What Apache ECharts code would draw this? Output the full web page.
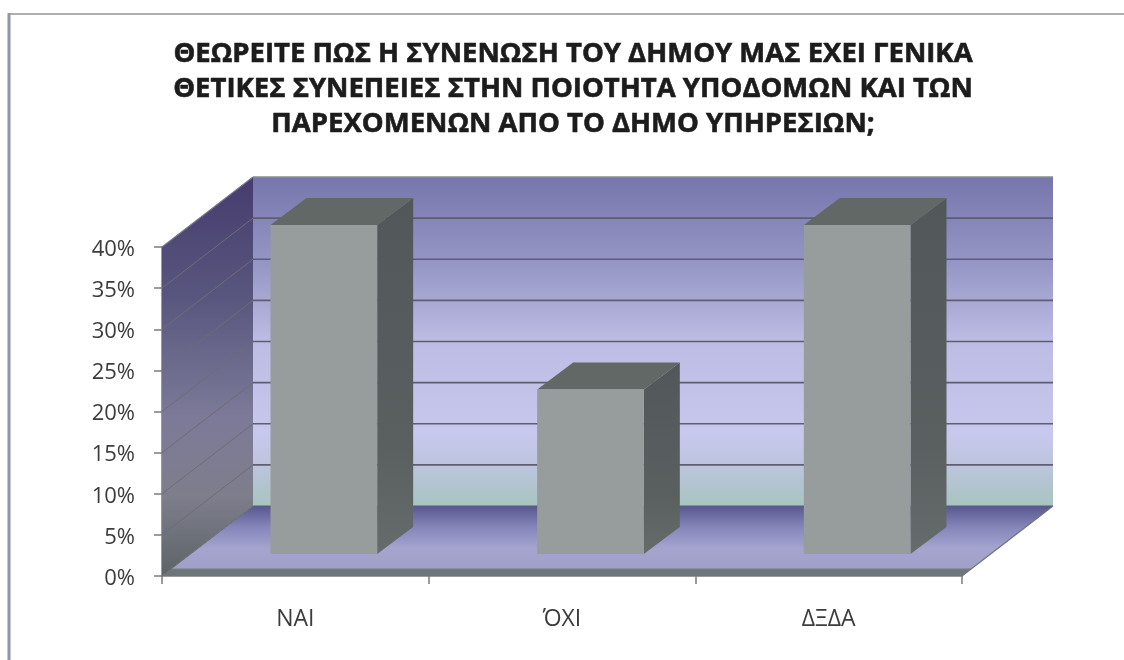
<!DOCTYPE html>
<html>
<head>
<meta charset="utf-8">
<style>html,body{margin:0;padding:0;background:#fff}#c{width:1124px;height:660px;filter:blur(0.6px)}</style>
<script src="https://cdn.jsdelivr.net/npm/echarts@6/dist/echarts.min.js"></script>
</head>
<body>
<div id="c"></div>
<script>
const titleLines = [
  'ΘΕΩΡΕΙΤΕ ΠΩΣ Η ΣΥΝΕΝΩΣΗ ΤΟΥ ΔΗΜΟΥ ΜΑΣ ΕΧΕΙ ΓΕΝΙΚΑ',
  'ΘΕΤΙΚΕΣ ΣΥΝΕΠΕΙΕΣ ΣΤΗΝ ΠΟΙΟΤΗΤΑ ΥΠΟΔΟΜΩΝ ΚΑΙ ΤΩΝ',
  'ΠΑΡΕΧΟΜΕΝΩΝ ΑΠΟ ΤΟ ΔΗΜΟ ΥΠΗΡΕΣΙΩΝ;'
];
const categories = ['ΝΑΙ', 'ΌΧΙ', 'ΔΞΔΑ'];
const shares = [40, 20, 40];
const yTicks = [0, 5, 10, 15, 20, 25, 30, 35, 40];

const WALL_DX = 91, WALL_DY = -70;
const BAR_SHIFT_X = 28.5, BAR_SHIFT_Y = -22;
const BAR_DX = 36, BAR_DY = -27;
const BAR_BAND = 0.4;

const G = echarts.graphic;
const vGrad = stops => new G.LinearGradient(0, 0, 0, 1, stops.map(s => ({offset: s[0], color: s[1]})));
const poly = (points, style, z2) => ({type: 'polygon', shape: {points}, style, z2: z2 || 0, silent: true});
const seg = (a, b, stroke, lineWidth) => ({
  type: 'line', shape: {x1: a[0], y1: a[1], x2: b[0], y2: b[1]},
  style: {stroke, lineWidth}, z2: 2, silent: true
});

function renderWalls(params, api) {
  const r = params.coordSys;
  const L = r.x, R = r.x + r.width, T = r.y, B = r.y + r.height;
  const children = [];
  children.push(poly([[L + WALL_DX, T + WALL_DY], [R + WALL_DX, T + WALL_DY], [R + WALL_DX, B + WALL_DY], [L + WALL_DX, B + WALL_DY]], {
    fill: vGrad([[0, '#7676ac'], [0.25, '#9494c4'], [0.5, '#bcbce4'], [0.78, '#c8c8ee'], [0.88, '#bcc4dc'], [0.95, '#b0c4cc'], [1, '#a8c4c0']])
  }));
  children.push(poly([[L, T], [L + WALL_DX, T + WALL_DY], [L + WALL_DX, B + WALL_DY], [L, B]], {
    fill: vGrad([[0, '#463c6e'], [0.3, '#58567e'], [0.6, '#7c7a98'], [0.8, '#7e7e8c'], [1, '#5c6466']])
  }));
  children.push(poly([[L, B], [R, B], [R + WALL_DX, B + WALL_DY], [L + WALL_DX, B + WALL_DY]], {
    fill: new G.LinearGradient(0, 0, 0, 1, [
      {offset: 0, color: '#58588f'}, {offset: 0.3, color: '#8585ba'}, {offset: 0.6, color: '#a4a4cf'},
      {offset: 0.88, color: '#a0a0c8'}, {offset: 0.91, color: '#6e767a'}, {offset: 1, color: '#6e767a'}
    ])
  }));
  yTicks.forEach(t => {
    const y = api.coord([0, t])[1];
    if (t > 0 && t < 40) {
      children.push(seg([L + WALL_DX, y + WALL_DY], [R + WALL_DX, y + WALL_DY], '#5e5e70', 1.6));
      children.push(seg([L, y], [L + WALL_DX, y + WALL_DY], '#6f6c74', 1));
    }
  });
  children.push(seg([L + WALL_DX, T + WALL_DY], [R + WALL_DX, T + WALL_DY], '#8a8a94', 1.4));
  children.push(seg([L + WALL_DX, B + WALL_DY], [R + WALL_DX, B + WALL_DY], '#5b5f74', 1.2));
  children.push(seg([L, T], [L + WALL_DX, T + WALL_DY], '#77778a', 1.2));
  children.push(seg([L, B], [L + WALL_DX, B + WALL_DY], '#666c70', 1));
  children.push(seg([R, B], [R + WALL_DX, B + WALL_DY], '#70747c', 1.2));
  return {type: 'group', children};
}

function renderBar(params, api) {
  const idx = api.value(0);
  const top = api.coord([idx, api.value(1)]);
  const base = api.coord([idx, 0]);
  const w = api.size([1, 0])[0] * BAR_BAND;
  const x0 = base[0] + BAR_SHIFT_X - w / 2, x1 = x0 + w;
  const yT = top[1] + BAR_SHIFT_Y, yB = base[1] + BAR_SHIFT_Y;
  return {type: 'group', children: [
    poly([[x1, yT], [x1 + BAR_DX, yT + BAR_DY], [x1 + BAR_DX, yB + BAR_DY], [x1, yB]], {
      fill: vGrad([[0, '#52585a'], [0.7, '#5a6060'], [1, '#666c6c']])
    }),
    poly([[x0, yT], [x0 + BAR_DX, yT + BAR_DY], [x1 + BAR_DX, yT + BAR_DY], [x1, yT]], {fill: '#626866'}),
    poly([[x0, yT], [x1, yT], [x1, yB], [x0, yB]], {fill: '#979c9c'})
  ]};
}

const chart = echarts.init(document.getElementById('c'), null, {renderer: 'canvas'});
chart.setOption({
  animation: false,
  backgroundColor: '#ffffff',
  title: {
    text: titleLines.join('\n'),
    left: 568, top: 32, textAlign: 'center',
    textStyle: {fontFamily: '"Open Sans", sans-serif', fontWeight: 'bold', fontSize: 27.5, lineHeight: 35, color: '#1c1c1c', textBorderColor: '#1c1c1c', textBorderWidth: 0.6}
  },
  grid: {left: 162, top: 247, width: 800, height: 329},
  xAxis: {
    type: 'category', data: categories,
    axisLine: {show: true, lineStyle: {color: '#7a7a80', width: 1.5}},
    axisTick: {show: true, length: 8, alignWithLabel: false, lineStyle: {color: '#7a7a80', width: 1.5}},
    axisLabel: {fontFamily: '"Open Sans", sans-serif', fontSize: 23, color: '#3c3c3c', margin: 32},
    splitLine: {show: false}
  },
  yAxis: {
    type: 'value', min: 0, max: 40, interval: 5,
    axisLine: {show: true, lineStyle: {color: '#7a7a80', width: 1.5}},
    axisTick: {show: true, length: 8, lineStyle: {color: '#7a7a80', width: 1.5}},
    axisLabel: {fontFamily: '"Open Sans", sans-serif', fontSize: 22, color: '#3c3c3c', margin: 27, verticalAlign: 'top', lineHeight: 5, formatter: '{value}%'},
    splitLine: {show: false}
  },
  graphic: [
    {type: 'line', shape: {x1: 8, y1: 14, x2: 1124, y2: 14}, style: {stroke: '#b0b0b0', lineWidth: 2}, silent: true},
    {type: 'line', shape: {x1: 9, y1: 13, x2: 9, y2: 660}, style: {stroke: '#9297a8', lineWidth: 3}, silent: true}
  ],
  series: [
    {type: 'custom', silent: true, z: 2, data: [[0, 0]], renderItem: renderWalls, clip: false},
    {type: 'custom', silent: true, z: 3, data: shares.map((v, i) => [i, v]), encode: {x: 0, y: 1}, renderItem: renderBar, clip: false}
  ]
});
</script>
</body>
</html>
